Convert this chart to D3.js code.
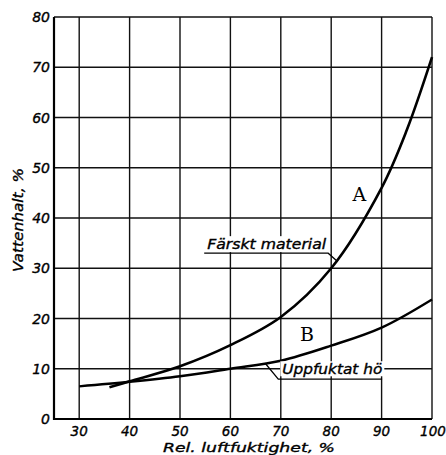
<!DOCTYPE html>
<html><head><meta charset="utf-8">
<script src="https://cdn.jsdelivr.net/npm/d3@7"></script>
<style>body{margin:0;background:#fff}svg{display:block}</style>
</head><body>
<svg id="c" width="446" height="455"></svg>
<script>
const xTicks = [30,40,50,60,70,80,90,100];
const yTicks = [0,10,20,30,40,50,60,70,80];
const curveAx = [36,40,50,60,70,80,90,95,100];
const curveAy = [6.3,7.5,10.5,14.7,20.3,30,46,57.5,72];
const curveBx = [30,40,50,60,70,80,90,100];
const curveBy = [6.5,7.4,8.5,10.0,11.6,14.6,18.2,23.8];
const xLabel = "Rel. luftfuktighet, %";
const yLabel = "Vattenhalt, %";
const labelA = "Färskt material";
const labelB = "Uppfuktat hö";

const svg = d3.select("#c");
const x = d3.scaleLinear().domain([25,100]).range([54,432]);
const y = d3.scaleLinear().domain([0,80]).range([419,17]);
const font = "'DejaVu Sans', sans-serif";
function txt(sel, size){
  return sel.attr("font-family",font).attr("font-style","italic").attr("font-size",size)
    .attr("stroke","#000").attr("stroke-width",0.35).attr("fill","#000");
}

// grid
svg.append("g").selectAll("line").data(xTicks).join("line")
  .attr("x1",d=>x(d)).attr("x2",d=>x(d)).attr("y1",y(0)).attr("y2",y(80))
  .attr("stroke","#111").attr("stroke-width",1.4);
svg.append("g").selectAll("line").data(yTicks).join("line")
  .attr("x1",x(25)).attr("x2",x(100)).attr("y1",d=>y(d)).attr("y2",d=>y(d))
  .attr("stroke","#111").attr("stroke-width",1.4);
// axes frame
svg.append("line").attr("x1",x(25)).attr("x2",x(25)).attr("y1",y(0)+1).attr("y2",y(80))
  .attr("stroke","#000").attr("stroke-width",2.2);
svg.append("line").attr("x1",x(25)-1).attr("x2",x(100)).attr("y1",y(0)).attr("y2",y(0))
  .attr("stroke","#000").attr("stroke-width",2.2);

// tick labels
txt(svg.append("g").selectAll("text").data(yTicks).join("text")
  .attr("x",x(25)-4).attr("y",d=>y(d)+5).attr("text-anchor","end"), 14)
  .text(d=>d);
txt(svg.append("g").selectAll("text").data(xTicks).join("text")
  .attr("x",d=>x(d)+ (d===100?1:0)).attr("y",436).attr("text-anchor","middle"), 13.5)
  .text(d=>d);

// axis titles
txt(svg.append("text").attr("x",163).attr("y",452)
  .attr("textLength",172).attr("lengthAdjust","spacingAndGlyphs"), 13)
  .text(xLabel);
txt(svg.append("text").attr("transform","translate(23,220) rotate(-90)").attr("text-anchor","middle")
  .attr("textLength",104).attr("lengthAdjust","spacingAndGlyphs"), 14)
  .text(yLabel);

// curves
const line = d3.line().x(d=>x(d[0])).y(d=>y(d[1])).curve(d3.curveCatmullRom.alpha(0.5));
svg.append("path").attr("d",line(d3.zip(curveAx,curveAy)))
  .attr("fill","none").attr("stroke","#000").attr("stroke-width",2.6);
svg.append("path").attr("d",line(d3.zip(curveBx,curveBy)))
  .attr("fill","none").attr("stroke","#000").attr("stroke-width",2.4);

// letters
svg.append("text").attr("x",x(85.6)).attr("y",y(43.3)).attr("text-anchor","middle")
  .attr("font-family","'DejaVu Serif', serif").attr("font-size",19).text("A");
svg.append("text").attr("x",x(75.2)).attr("y",y(15.6)).attr("text-anchor","middle")
  .attr("font-family","'DejaVu Serif', serif").attr("font-size",19).text("B");

// annotations
svg.append("rect").attr("x",x(55.4)-2).attr("y",y(33.8)-13).attr("width",123).attr("height",16).attr("fill","#fff");
txt(svg.append("text").attr("x",x(55.4)).attr("y",y(33.8))
  .attr("textLength",119).attr("lengthAdjust","spacingAndGlyphs"), 13.5).text(labelA);
svg.append("polyline").attr("points",[[x(54.8),y(33.0)],[x(79.4),y(33.0)],[x(81.2),y(31.4)]].map(p=>p.join(",")).join(" "))
  .attr("fill","none").attr("stroke","#000").attr("stroke-width",1.3);

svg.append("polyline").attr("points",[[x(90.1),y(7.95)],[x(69.5),y(7.95)],[x(66.9),y(11.1)]].map(p=>p.join(",")).join(" "))
  .attr("fill","none").attr("stroke","#000").attr("stroke-width",1.3);
svg.append("rect").attr("x",x(70.3)-2).attr("y",y(8.9)-13).attr("width",104).attr("height",15).attr("fill","#fff");
txt(svg.append("text").attr("x",x(70.3)).attr("y",y(8.9))
  .attr("textLength",100).attr("lengthAdjust","spacingAndGlyphs"), 13.5).text(labelB);
</script>
</body></html>
